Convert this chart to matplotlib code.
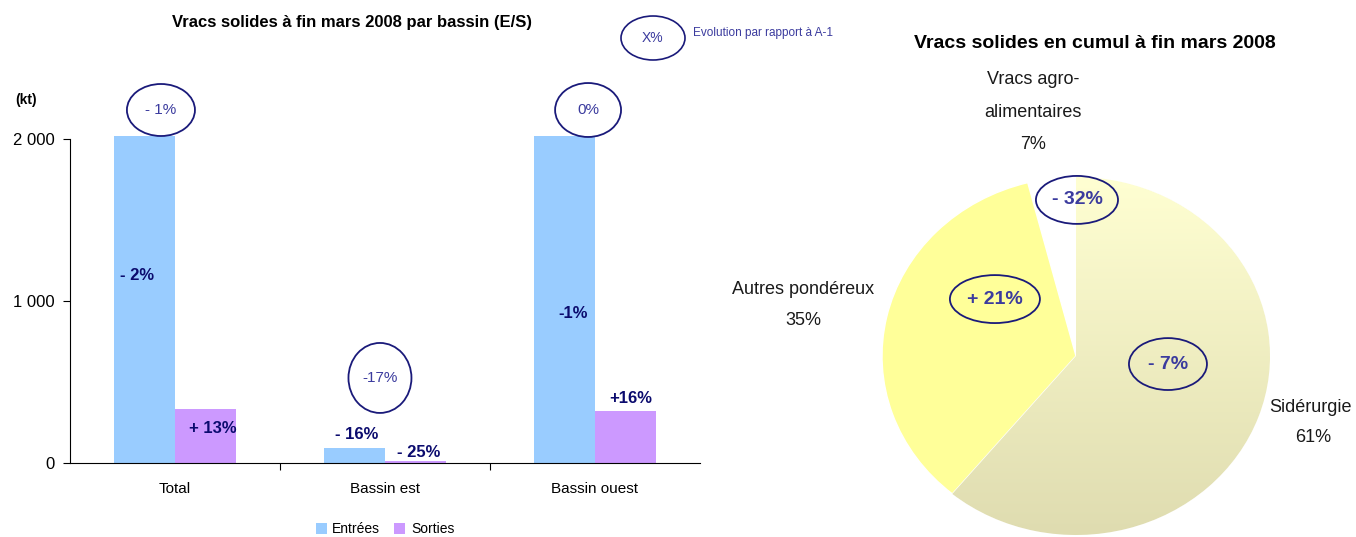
import matplotlib
matplotlib.use("Agg")
import matplotlib.pyplot as plt
import numpy as np
from matplotlib.patches import Ellipse
from matplotlib.colors import LinearSegmentedColormap

plt.rcParams['font.family'] = ['Liberation Sans', 'DejaVu Sans']

# ---- data ----
categories = ["Total", "Bassin est", "Bassin ouest"]
entrees = [2020, 95, 2020]
sorties = [333, 14, 318]
entrees_evol = ["- 2%", "- 16%", "-1%"]
sorties_evol = ["+ 13%", "- 25%", "+16%"]
total_evol = ["- 1%", "-17%", "0%"]
yticks = [0, 1000, 2000]
ytick_labels = ["0", "1 000", "2 000"]

pie_labels = ["Sidérurgie", "Autres pondéreux", "Vracs agro-\nalimentaires"]
pie_pct_labels = ["61%", "35%", "7%"]
pie_sizes = [61, 35, 4]
pie_evol = ["- 7%", "+ 21%", "- 32%"]

W, H = 1356, 537
fig = plt.figure(figsize=(W / 100, H / 100), dpi=100)

NAVY = "#1a1a7a"
EVOL_TXT = "#3b3b9e"
LABEL_NAVY = "#0b0b6e"

# ---- bar chart ----
ax = fig.add_axes([70 / W, 1 - 463 / H, 630 / W, 324 / H])
x = np.arange(len(categories))
bw = 0.29
ax.bar(x - bw / 2, entrees, bw, color="#99CCFF", label="Entrées", clip_on=False)
ax.bar(x + bw / 2, sorties, bw, color="#CC99FF", label="Sorties", clip_on=False)
ax.set_xlim(-0.5, 2.5)
ax.set_ylim(0, 2000)
ax.set_yticks(yticks)
ax.set_yticklabels(ytick_labels, fontsize=12)
ax.set_xticks([0.5, 1.5], minor=False)
ax.set_xticklabels([])
ax.set_xticks(x, minor=True)
ax.set_xticklabels(categories, minor=True, fontsize=11)
ax.tick_params(axis='x', which='minor', length=0, pad=14)
ax.tick_params(axis='x', which='major', length=5, direction='out')
ax.tick_params(axis='y', length=5, direction='out', pad=6)
for s in ["top", "right"]:
    ax.spines[s].set_visible(False)

# data labels (bold navy)
ent_lbl_pos = [(-0.181, 1160), (0.867, 173), (1.895, 920)]
sor_lbl_pos = [(0.181, 216), (1.162, 62), (2.171, 401)]
for (px, py), t in zip(ent_lbl_pos, entrees_evol):
    ax.text(px, py, t, ha="center", va="center", fontsize=12, fontweight="bold",
            color=LABEL_NAVY)
for (px, py), t in zip(sor_lbl_pos, sorties_evol):
    ax.text(px, py, t, ha="center", va="center", fontsize=12, fontweight="bold",
            color=LABEL_NAVY)

# evolution ellipses for bars
ell_pos = [(-0.067, 2179, 0.324, 321), (0.976, 525, 0.30, 432), (1.967, 2179, 0.314, 333)]
for (ex, ey, ew, eh), t in zip(ell_pos, total_evol):
    ax.add_patch(Ellipse((ex, ey), ew, eh, fill=False, ec=NAVY, lw=1.3, clip_on=False))
    ax.text(ex, ey, t, ha="center", va="center", fontsize=11, color=EVOL_TXT, clip_on=False)

ax.text(-0.71, 2240, "(kt)", ha="center", va="center", fontsize=10, fontweight="bold")

leg = ax.legend(loc="center", bbox_to_anchor=(0.5, -0.205), ncol=2, frameon=False,
                fontsize=10, handlelength=0.8, handleheight=0.8, handletextpad=0.4,
                columnspacing=1.0)

fig.text(352 / W, 1 - 22 / H, "Vracs solides à fin mars 2008 par bassin (E/S)",
         ha="center", va="center", fontsize=12, fontweight="bold")

# legend ellipse "X%"
fig.patches.append(Ellipse((653 / W, 1 - 38 / H), 64 / W, 44 / H, fill=False, ec=NAVY,
                           lw=1.2, transform=fig.transFigure))
fig.text(653 / W, 1 - 38 / H, "X%", ha="center", va="center", fontsize=10, color=EVOL_TXT)
fig.text(693 / W, 1 - 33 / H, "Evolution par rapport à A-1", ha="left", va="center",
         fontsize=8.5, color=EVOL_TXT)

# ---- pie chart ----
cx, cy, rx, ry = 1076, 356, 194, 179
pax = fig.add_axes([(cx - rx) / W, 1 - (cy + ry) / H, 2 * rx / W, 2 * ry / H])
wedges, _ = pax.pie(pie_sizes, startangle=90, counterclock=False, radius=1,
                    colors=["#E6E3B8", "#FFFF99", "white"],
                    wedgeprops=dict(ec="white", lw=1))
pax.set_aspect("auto")
pax.set_xlim(-1, 1)
pax.set_ylim(-1, 1)
pax.axis("off")

# gradient for first wedge
cmap = LinearSegmentedColormap.from_list("g", ["#DFDCB0", "#FFFFD2"])
grad = np.linspace(0, 1, 256).reshape(-1, 1)
im = pax.imshow(grad, extent=(-1, 1, -1, 1), origin="lower", cmap=cmap, aspect="auto",
                zorder=wedges[0].get_zorder() + 0.1)
im.set_clip_path(wedges[0])
wedges[2].set_visible(False)

fig.text(1095 / W, 1 - 44 / H, "Vracs solides en cumul à fin mars 2008",
         ha="center", va="center", fontsize=14, fontweight="bold")

# category labels
TXT = "#1a1a1a"
agro_lines = pie_labels[2].split("\n")
pax.text(-0.222, 1.542, agro_lines[0], ha="center", va="center", fontsize=13, clip_on=False, color=TXT)
pax.text(-0.222, 1.363, agro_lines[1], ha="center", va="center", fontsize=13, clip_on=False, color=TXT)
pax.text(-0.222, 1.179, pie_pct_labels[2], ha="center", va="center", fontsize=13, clip_on=False, color=TXT)
pax.text(-1.407, 0.369, pie_labels[1], ha="center", va="center", fontsize=13, clip_on=False, color=TXT)
pax.text(-1.407, 0.196, pie_pct_labels[1], ha="center", va="center", fontsize=13, clip_on=False, color=TXT)
pax.text(1.211, -0.29, pie_labels[0], ha="center", va="center", fontsize=13, clip_on=False, color=TXT)
pax.text(1.221, -0.458, pie_pct_labels[0], ha="center", va="center", fontsize=13, clip_on=False, color=TXT)

pie_ell = [(0.474, -0.045, 0.402, 0.29), (-0.418, 0.318, 0.464, 0.268), (0.005, 0.872, 0.423, 0.268)]
for (ex, ey, ew, eh), t in zip(pie_ell, pie_evol):
    pax.add_patch(Ellipse((ex, ey), ew, eh, fill=False, ec=NAVY, lw=1.3, clip_on=False, zorder=5))
    pax.text(ex, ey, t, ha="center", va="center", fontsize=14, fontweight="bold",
             color=EVOL_TXT, clip_on=False, zorder=6)

fig.savefig("out.png", dpi=100)
